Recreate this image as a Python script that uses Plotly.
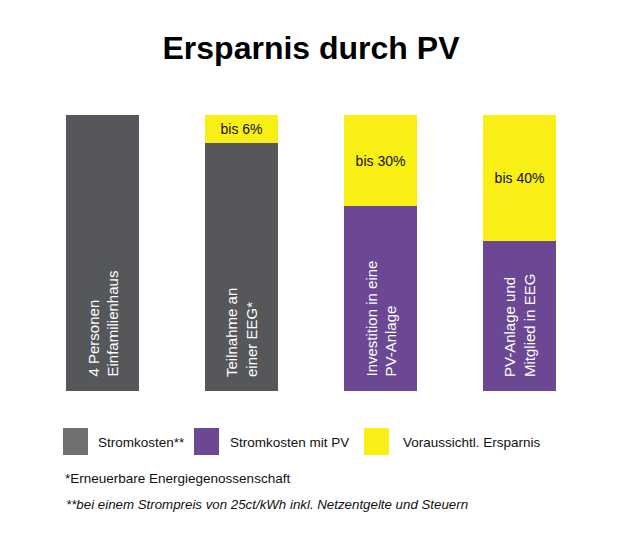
import plotly.graph_objects as go

# ---- data ----
categories = ["4 Personen<br>Einfamilienhaus", "Teilnahme an<br>einer EEG*",
              "Investition in eine<br>PV-Anlage", "PV-Anlage und<br>Mitglied in EEG"]
stromkosten = [100, 90, None, None]
stromkosten_pv = [None, None, 67, 54.5]
ersparnis = [None, 10, 33, 45.5]
ersparnis_labels = ["", "bis 6%", "bis 30%", "bis 40%"]
legend_names = ["Stromkosten**", "Stromkosten mit PV", "Voraussichtl. Ersparnis"]
footnotes = ["*Erneuerbare Energiegenossenschaft",
             "<i>**bei einem Strompreis von 25ct/kWh inkl. Netzentgelte und Steuern</i>"]
title_text = "Ersparnis durch PV"

# ---- style ----
FONT = "Liberation Sans, Arial, sans-serif"
C_GRAY = "#55575b"
C_GRAY_LEG = "#707070"
C_PURPLE = "#6b4794"
C_YELLOW = "#f9ef14"

OFF = 8  # page body margin
W, H = 644 - 2 * OFF, 544 - 2 * OFF
ML, MT = 33 - OFF, 115 - OFF
PW, PH = 556, 276
MR = W - ML - PW
MB = H - MT - PH


def px(x):
    return (x - OFF - ML) / PW


def py(y):
    return 1 - (y - OFF - MT) / PH


fig = go.Figure()
fig.add_trace(go.Bar(x=categories, y=stromkosten, name=legend_names[0],
                     marker=dict(color=C_GRAY, line=dict(width=0))))
fig.add_trace(go.Bar(x=categories, y=stromkosten_pv, name=legend_names[1],
                     marker=dict(color=C_PURPLE, line=dict(width=0))))
fig.add_trace(go.Bar(x=categories, y=ersparnis, name=legend_names[2],
                     marker=dict(color=C_YELLOW, line=dict(width=0)),
                     text=ersparnis_labels, textposition="inside",
                     insidetextanchor="middle", textangle=0,
                     insidetextfont=dict(color="#111111", size=14, family=FONT)))

annotations = []
# category labels inside bars (rotated)
for c in categories:
    annotations.append(dict(x=c, y=0, xref="x", yref="y", text=c, showarrow=False,
                            textangle=-90, align="left", xanchor="center",
                            yanchor="bottom", yshift=12,
                            font=dict(color="white", size=15, family=FONT)))

# custom legend
leg_sq = [(63, C_GRAY_LEG), (194, C_PURPLE), (364, C_YELLOW)]
leg_tx = [96, 228, 401]
shapes = []
for (x0, col), tx, name in zip(leg_sq, leg_tx, legend_names):
    shapes.append(dict(type="rect", xref="paper", yref="paper",
                       x0=px(x0), x1=px(x0 + 25), y0=py(455), y1=py(428),
                       fillcolor=col, line=dict(width=0)))
    annotations.append(dict(xref="paper", yref="paper", x=px(tx), y=py(442),
                            xanchor="left", yanchor="middle", showarrow=False,
                            text=name, font=dict(size=13.5, color="#111111", family=FONT)))

annotations.append(dict(xref="paper", yref="paper", x=px(63), y=py(478),
                        xanchor="left", yanchor="middle", showarrow=False,
                        text=footnotes[0], font=dict(size=13.5, color="#111111", family=FONT)))
annotations.append(dict(xref="paper", yref="paper", x=px(64), y=py(504),
                        xanchor="left", yanchor="middle", showarrow=False,
                        text=footnotes[1], font=dict(size=13.3, color="#111111", family=FONT)))

fig.update_layout(
    width=W, height=H,
    margin=dict(l=ML, r=MR, t=MT, b=MB),
    barmode="stack", bargap=0.468,
    showlegend=False,
    plot_bgcolor="white", paper_bgcolor="white",
    title=dict(text="<b>" + title_text + "</b>", x=0.5, xref="paper", xanchor="center",
               y=1 - (48 - OFF) / H, yanchor="middle", yref="container",
               font=dict(size=32, color="black", family=FONT)),
    xaxis=dict(visible=False),
    yaxis=dict(visible=False, range=[0, 100]),
    annotations=annotations,
    shapes=shapes,
    font=dict(family=FONT),
)

fig.write_html("out.html")
